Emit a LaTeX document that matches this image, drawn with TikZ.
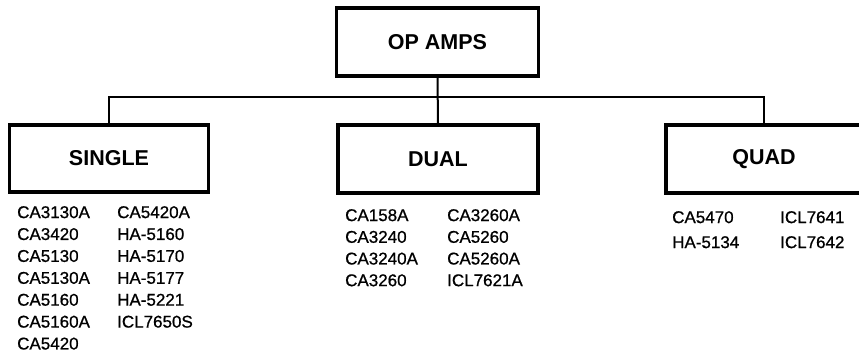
\documentclass[tikz,border=0pt]{standalone}
\usepackage{fontspec}
\setmainfont{Liberation Sans}
\newfontfamily\lstfont[FakeBold=0.8]{Liberation Sans}
\begin{document}
\begin{tikzpicture}[x=1pt,y=-1pt,
  box/.style={draw=black, line width=3.4pt, inner sep=0pt, font=\fontsize{21.5}{24}\selectfont\bfseries},
  conn/.style={draw=black, line width=2pt},
  lst/.style={anchor=north west, inner sep=0pt, align=left}]
\useasboundingbox (0,0) rectangle (859,354);
\clip (0,0) rectangle (859,354);
\fill[white] (0,0) rectangle (859,354);
\node[box, minimum width=202pt, minimum height=68pt] (opamps) at (437.5,42) {OP AMPS};
\node[box, minimum width=199pt, minimum height=67pt] (single) at (109,158.5) {SINGLE};
\node[box, minimum width=200pt, minimum height=68pt] (dual) at (438,159) {DUAL};
\node[box, minimum width=196pt, minimum height=68pt] (quad) at (764,159) {QUAD};
\coordinate (bus) at (440,97);
\draw[conn] (opamps.south) -- (dual.north);
\draw[conn] (single.north) |- (bus) -| (quad.north);
\node[lst, font=\lstfont\fontsize{17}{21.9}\selectfont] (s1) at (17,206) {CA3130A\\CA3420\\CA5130\\CA5130A\\CA5160\\CA5160A\\CA5420};
\node[lst, font=\lstfont\fontsize{17}{21.9}\selectfont] (s2) at (117,206) {CA5420A\\HA-5160\\HA-5170\\HA-5177\\HA-5221\\ICL7650S};
\node[lst, font=\lstfont\fontsize{17}{21.7}\selectfont] (d1) at (345,209) {CA158A\\CA3240\\CA3240A\\CA3260};
\node[lst, font=\lstfont\fontsize{17}{21.7}\selectfont] (d2) at (447,209) {CA3260A\\CA5260\\CA5260A\\ICL7621A};
\node[lst, font=\lstfont\fontsize{17}{25}\selectfont] (q1) at (672,211) {CA5470\\HA-5134};
\node[lst, font=\lstfont\fontsize{17}{25}\selectfont] (q2) at (780,211) {ICL7641\\ICL7642};
\end{tikzpicture}
\end{document}
